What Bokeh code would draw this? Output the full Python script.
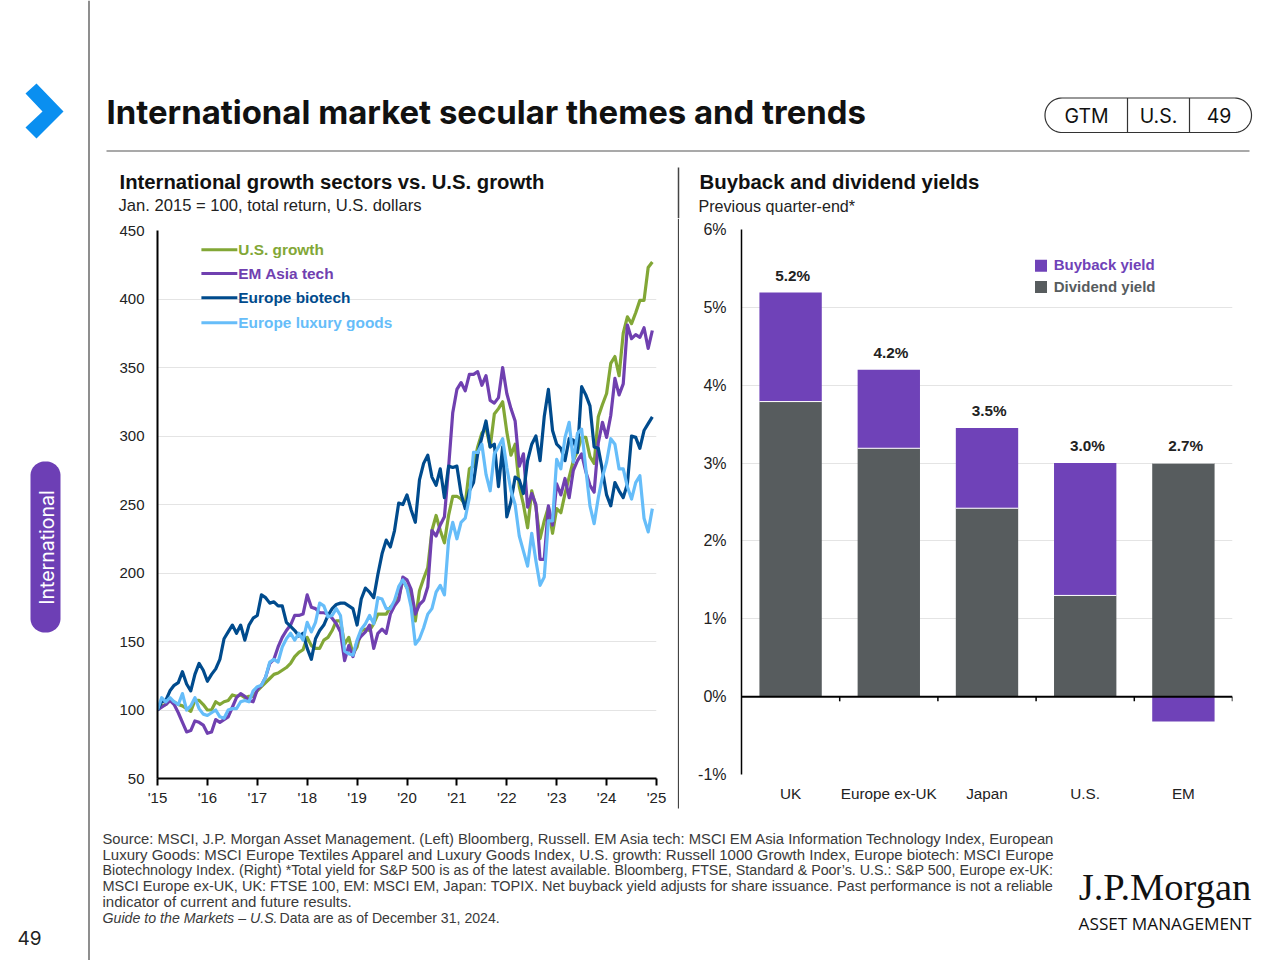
import numpy as np
from bokeh.plotting import figure
from bokeh.layouts import row, column
from bokeh.models import Range1d, FixedTicker, Span
from bokeh.embed import file_html
from bokeh.resources import INLINE
from bokeh.core.properties import value

# ---------- left chart data (monthly, Jan 2015 = 100) ----------
us_growth = [100,103,104,107,106,104,103,101,99,107,107,104,100,100,106,104,106,107,111,110,111,109,110,110,
 114,117,120,123,126,127,129,131,134,139,142,144,153,147,145,145,151,153,158,165,165,148,153,141,146,158,159,158,163,170,170,170,175,178,182,195,
 189,185,165,187,196,204,231,242,231,222,242,256,256,254,250,276,278,292,302,306,292,316,320,325,303,286,294,263,250,233,260,248,225,238,248,229,
 247,244,258,270,282,289,299,299,285,280,314,323,331,353,358,344,375,387,382,390,399,399,423,427]
em_asia_tech = [100,102,104,107,104,98,91,84,85,92,91,89,83,84,93,91,93,95,102,109,112,110,107,106,
 115,118,124,134,137,146,153,158,162,169,169,170,184,175,174,171,171,170,167,163,157,136,147,139,150,154,157,162,145,156,159,156,170,176,180,197,
 195,188,170,177,180,190,231,227,235,241,277,317,334,339,333,345,345,347,337,344,326,324,328,350,331,320,311,278,287,248,258,250,210,210,249,235,
 265,257,269,255,275,282,287,274,264,259,295,310,299,315,342,330,338,381,371,374,372,379,364,377]
europe_biotech = [100,106,107,114,118,120,128,119,114,126,134,129,121,126,130,137,152,157,162,156,162,151,162,167,
 169,184,182,178,179,176,176,164,161,158,154,156,145,137,152,158,162,169,174,177,178,178,176,174,162,181,189,186,182,199,214,224,219,231,251,250,
 257,246,237,268,280,286,270,264,276,255,278,277,278,258,247,260,266,287,299,311,292,294,263,292,241,252,270,268,258,282,294,300,282,314,334,304,
 294,291,282,298,297,288,336,330,322,292,291,275,257,249,266,260,255,265,300,299,291,304,309,314]
europe_luxury = [100,109,106,109,106,104,112,100,103,109,101,97,96,98,100,95,94,100,101,101,106,107,106,114,
 117,118,124,135,137,135,146,152,156,151,156,151,164,157,164,178,176,168,169,174,169,143,141,140,151,159,163,169,163,182,181,174,174,180,190,195,
 189,175,148,152,160,170,174,186,191,184,224,237,225,237,240,255,288,288,294,272,260,287,292,298,277,260,250,227,216,205,229,209,191,197,238,238,
 283,276,299,310,281,302,305,276,249,236,255,270,281,298,294,276,276,263,254,266,271,240,230,247]
line_names = ["U.S. growth", "EM Asia tech", "Europe biotech", "Europe luxury goods"]
line_colors = ["#82a736", "#7040b0", "#004b8d", "#66bdf9"]
year_labels = ["'15","'16","'17","'18","'19","'20","'21","'22","'23","'24","'25"]

# ---------- right chart data ----------
regions = ["UK", "Europe ex-UK", "Japan", "U.S.", "EM"]
dividend_yield = [3.79, 3.19, 2.42, 1.30, 3.00]
buyback_yield = [1.40, 1.01, 1.03, 1.70, -0.32]
total_labels = ["5.2%", "4.2%", "3.5%", "3.0%", "2.7%"]
yield_ticks = [-1, 0, 1, 2, 3, 4, 5, 6]

SANS = "Liberation Sans"
TXT = "#222222"

def page_fig(x0, x1, y0, y1, shift=0):
    p = figure(width=x1 - x0, height=y1 - y0, x_range=Range1d(x0 + shift, x1 + shift),
               y_range=Range1d(y1 + shift, y0 + shift),
               output_backend="svg", toolbar_location=None, min_border=0, outline_line_color=None,
               x_axis_type=None, y_axis_type=None)
    p.xgrid.visible = False
    p.ygrid.visible = False
    return p

def rrect(x0, y0, x1, y1, r):
    t = np.linspace(0, np.pi / 2, 16)
    xs = np.concatenate([x1 - r + r*np.sin(t), x1 - r + r*np.cos(t), x0 + r - r*np.sin(t), x0 + r - r*np.cos(t)])
    ys = np.concatenate([y0 + r - r*np.cos(t), y1 - r + r*np.sin(t), y1 - r + r*np.cos(t), y0 + r - r*np.sin(t)])
    return np.append(xs, xs[0]), np.append(ys, ys[0])

def put(p, x, y, s, size, color=TXT, font=SANS, style="normal", align="left", **kw):
    p.text([x], [y], text=[s], text_font=value(font), text_font_size=f"{size}px", text_font_style=style,
           text_color=color, text_align=align, text_baseline="middle", **kw)

# ---------- sidebar ----------
side = page_fig(0, 100, 0, 960)
side.line([88.5, 88.5], [0, 960], line_color="#444444", line_width=1.2)
side.patch([25, 36, 63, 36, 25, 42], [93, 83, 111, 138, 127, 111], fill_color="#0a8ff0", line_color=None)
px, py = rrect(30, 461, 60, 632, 14)
side.patch(list(px), list(py), fill_color="#6d3fb5", line_color=None)
put(side, 46, 547, "International", 19.5, color="#ffffff", font="Inter", align="center", angle=np.pi / 2)
put(side, 29, 937, "49", 19, color="#222222", font="Inter", align="center")

# ---------- header ----------
head = page_fig(100, 1280, 0, 218, shift=1)
put(head, 107, 112, "International market secular themes and trends", 32.9, color="#111111", font="Inter", style="bold")
head.line([107, 1250], [151.5, 151.5], line_color="#555555", line_width=1.2)
bx, by = rrect(1045.5, 98.5, 1252, 133, 17)
head.line(list(bx), list(by), line_color="#333333", line_width=1.2)
head.segment([1128, 1190], [98.5, 98.5], [1128, 1190], [133, 133], line_color="#333333", line_width=1.2)
put(head, 1087, 116, "GTM", 19.5, color="#111111", font="Inter", align="center")
put(head, 1159, 116, "U.S.", 19.5, color="#111111", font="Inter", align="center")
put(head, 1219.5, 116, "49", 19.5, color="#111111", font="Inter", align="center")
put(head, 120, 182, "International growth sectors vs. U.S. growth", 20.3, color="#111111", style="bold")
put(head, 119, 206, "Jan. 2015 = 100, total return, U.S. dollars", 16.6, color="#222222")
put(head, 700, 182, "Buyback and dividend yields", 20.4, color="#111111", style="bold")
put(head, 699, 206, "Previous quarter-end*", 16.1, color="#222222")
head.line([679, 679], [168, 219], line_color="#444444", line_width=1.5)

# ---------- left chart ----------
left = figure(width=577, height=604, x_range=Range1d(2015, 2025), y_range=Range1d(50, 450),
              output_backend="svg", toolbar_location=None, outline_line_color=None,
              min_border_left=57, min_border_right=21, min_border_top=12, min_border_bottom=44)
left.xaxis.ticker = FixedTicker(ticks=list(range(2015, 2026)))
left.xaxis.major_label_overrides = {2015 + i: s for i, s in enumerate(year_labels)}
left.yaxis.ticker = FixedTicker(ticks=list(range(50, 451, 50)))
left.xgrid.visible = False
left.ygrid.grid_line_color = "#e4e4e4"
left.ygrid.grid_line_width = 1
for ax in (left.xaxis[0], left.yaxis[0]):
    ax.axis_line_color = "#000000"
    ax.axis_line_width = 2
    ax.major_tick_line_color = "#000000"
    ax.major_tick_line_width = 2
    ax.minor_tick_line_color = None
    ax.major_label_text_font = SANS
    ax.major_label_text_font_size = "15px"
    ax.major_label_text_color = "#222222"
left.xaxis.major_tick_in = 0
left.xaxis.major_tick_out = 7
left.xaxis.major_label_standoff = 3
left.yaxis.major_tick_in = 0
left.yaxis.major_tick_out = 0
left.yaxis.major_label_standoff = 13

months = [2015 + i / 12 for i in range(120)]
series = [us_growth, em_asia_tech, europe_biotech, europe_luxury]
for vals, col in zip(series, line_colors):
    left.line(months, vals, line_color=col, line_width=3.2, line_join="round")
leg_y = [436, 418.7, 401, 382.7]
for yy, name, col in zip(leg_y, line_names, line_colors):
    left.line([2015.88, 2016.6], [yy, yy], line_color=col, line_width=3)
    left.text([2016.62], [yy], text=[name], text_font=value(SANS), text_font_size="15.4px", text_font_style="bold",
              text_color=col, text_baseline="middle")

# ---------- divider ----------
div = page_fig(677, 679, 218, 822)
div.line([678, 678], [218, 808], line_color="#444444", line_width=1.5)

# ---------- right chart ----------
right = figure(width=601, height=604, x_range=Range1d(0, 5), y_range=Range1d(-1, 6),
               output_backend="svg", toolbar_location=None, outline_line_color=None,
               min_border_left=62, min_border_right=48, min_border_top=11, min_border_bottom=48)
centers = [i + 0.5 for i in range(len(regions))]
right.xaxis.ticker = FixedTicker(ticks=centers)
right.xaxis.major_label_overrides = {c: s for c, s in zip(centers, regions)}
right.yaxis.ticker = FixedTicker(ticks=yield_ticks)
right.yaxis.major_label_overrides = {t: f"{t}%" for t in yield_ticks}
right.xgrid.visible = False
right.ygrid.grid_line_color = "#e4e4e4"
right.ygrid.grid_line_width = 1
right.xaxis.axis_line_color = None
right.xaxis.major_tick_line_color = None
right.xaxis.minor_tick_line_color = None
right.xaxis.major_label_standoff = 4
right.yaxis.axis_line_color = "#000000"
right.yaxis.axis_line_width = 1.5
right.yaxis.major_tick_line_color = None
right.yaxis.minor_tick_line_color = None
right.yaxis.major_label_standoff = 9
for ax in (right.xaxis[0], right.yaxis[0]):
    ax.major_label_text_font = SANS
    ax.major_label_text_color = "#222222"
right.xaxis.major_label_text_font_size = "15.3px"
right.yaxis.major_label_text_font_size = "16px"

bot = [d if b > 0 else 0 for d, b in zip(dividend_yield, buyback_yield)]
top = [d + b if b > 0 else b for d, b in zip(dividend_yield, buyback_yield)]
right.vbar(x=centers, bottom=0, top=dividend_yield, width=0.635, fill_color="#575c5e", line_color=None)
right.vbar(x=centers, bottom=bot, top=top, width=0.635, fill_color="#6f42b8", line_color=None)
right.segment([c - 0.3175 for c in centers], dividend_yield, [c + 0.3175 for c in centers], dividend_yield,
              line_color="#ffffff", line_width=1)
right.add_layout(Span(location=0, dimension="width", line_color="#000000", line_width=2))
right.segment([1, 2, 3, 4, 5], [0, 0, 0, 0, 0], [1, 2, 3, 4, 5], [-0.06] * 5, line_color="#000000", line_width=1.5)
label_y = [max(d, d + b) + 0.22 for d, b in zip(dividend_yield, buyback_yield)]
right.text([c + 0.022 for c in centers], label_y, text=total_labels, text_font=value(SANS), text_font_size="15.3px",
           text_font_style="bold", text_color="#222222", text_align="center", text_baseline="middle")
right.scatter([3.05, 3.05], [5.535, 5.26], size=12, marker="square", fill_color=["#6f42b8", "#575c5e"], line_color=None)
right.text([3.18, 3.18], [5.547, 5.272], text=["Buyback yield", "Dividend yield"], text_font=value(SANS),
           text_font_size="15px", text_font_style="bold", text_color=["#6f42b8", "#575c5e"], text_baseline="middle")

# ---------- footer ----------
foot = page_fig(100, 1280, 822, 960, shift=1)
notes = [
 ("Source: MSCI, J.P. Morgan Asset Management. (Left) Bloomberg, Russell. EM Asia tech: MSCI EM Asia Information Technology Index, European", 14.79, 839),
 ("Luxury Goods: MSCI Europe Textiles Apparel and Luxury Goods Index, U.S. growth: Russell 1000 Growth Index, Europe biotech: MSCI Europe", 15.0, 855),
 ("Biotechnology Index. (Right) *Total yield for S&P 500 is as of the latest available. Bloomberg, FTSE, Standard & Poor’s. U.S.: S&P 500, Europe ex-UK:", 14.28, 870),
 ("MSCI Europe ex-UK, UK: FTSE 100, EM: MSCI EM, Japan: TOPIX. Net buyback yield adjusts for share issuance. Past performance is not a reliable", 14.5, 886),
 ("indicator of current and future results.", 15.05, 902),
]
for s, fs, yy in notes:
    put(foot, 103, yy, s, fs, color="#3a3a3a")
put(foot, 103, 918, "Guide to the Markets – U.S.", 14.2, color="#3a3a3a", style="italic")
put(foot, 280, 918, "Data are as of December 31, 2024.", 14.1, color="#3a3a3a")
put(foot, 1165.5, 887, "J.P.Morgan", 38.5, color="#111111", font="Liberation Serif", align="center")
put(foot, 1165.5, 923.5, "ASSET MANAGEMENT", 17.2, color="#111111", font="Open Sans", align="center")

layout = row(side, column(head, row(column(left), column(div), column(right), spacing=0), foot, spacing=0), spacing=0)
open("out.html", "w").write(file_html(layout, INLINE))
